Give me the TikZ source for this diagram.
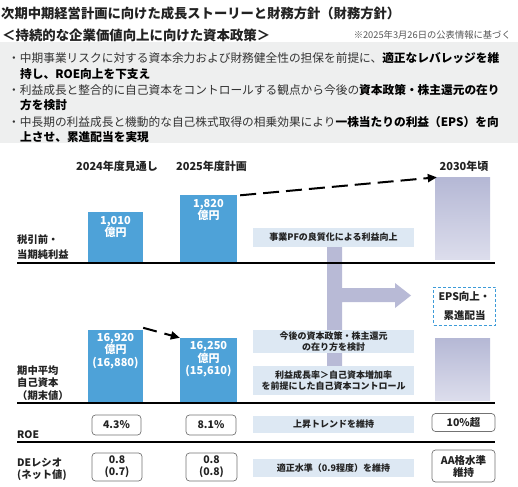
\documentclass[tikz,border=0pt]{standalone}
\usepackage{fontspec}
\setmainfont{Noto Sans CJK JP}
\usetikzlibrary{arrows.meta}
\definecolor{barblue}{HTML}{4EA2D8}
\definecolor{lblue}{HTML}{DDE8F3}
\definecolor{lavtop}{HTML}{B5B8D5}
\definecolor{lavbot}{HTML}{DCDDEC}
\definecolor{lav}{HTML}{B8BAD6}
\definecolor{bggray}{HTML}{EEEFEF}
\definecolor{epsblue}{HTML}{3D9BD8}
\definecolor{txt}{HTML}{222222}
\definecolor{notegray}{HTML}{555555}
\begin{document}
\begin{tikzpicture}[x=1pt,y=-1pt,
  every node/.style={inner sep=0pt, text=txt},
  bar/.style={fill=barblue, minimum width=55pt},
  bartxt/.style={text=white, align=center, font=\fontsize{11}{12.4}\selectfont\bfseries},
  lavbar/.style={top color=lavtop, bottom color=lavbot, minimum width=55pt},
  hdr/.style={font=\fontsize{11}{13}\selectfont\bfseries},
  lab/.style={anchor=west, align=left, font=\fontsize{10.3}{12.2}\selectfont\bfseries},
  lb/.style={fill=lblue, minimum width=161pt, align=center, font=\fontsize{9}{11.5}\selectfont\bfseries},
  rb/.style={draw=black!55, rounded corners=3.5pt, line width=0.7pt, fill=white, align=center, font=\fontsize{10.5}{12}\selectfont\bfseries},
  bul/.style={anchor=west, font=\fontsize{11.7}{14}\selectfont, text=black!80},
  base/.style={line width=1.3pt, black},
  dasharrow/.style={line width=2pt, dash pattern=on 16pt off 7pt, -{Triangle[length=9pt,width=8pt]}},
]
\useasboundingbox (0,0) rectangle (518,486);

% header
\node[anchor=west, font=\fontsize{13.3}{15}\selectfont\bfseries] (title) at (1,13.5) {次期中期経営計画に向けた成長ストーリーと財務方針（財務方針）};
\node[anchor=west, font=\fontsize{13.4}{15}\selectfont\bfseries] (sub) at (2,35) {＜持続的な企業価値向上に向けた資本政策＞};
\node[anchor=east, font=\fontsize{9.3}{10}\selectfont, text=notegray] (note) at (511,35) {※2025年3月26日の公表情報に基づく};

\fill[bggray] (0,42) rectangle (518,143);
\node[bul] (b1a) at (8,58) {・中期事業リスクに対する資本余力および財務健全性の担保を前提に、\textbf{\color{black}適正なレバレッジを維}};
\node[bul] (b1b) at (20,74) {\textbf{\color{black}持し、ROE向上を下支え}};
\node[bul] (b2a) at (8,90) {・利益成長と整合的に自己資本をコントロールする観点から今後の\textbf{\color{black}資本政策・株主還元の在り}};
\node[bul] (b2b) at (20,105.5) {\textbf{\color{black}方を検討}};
\node[bul] (b3a) at (8,122) {・中長期の利益成長と機動的な自己株式取得の相乗効果により\textbf{\color{black}一株当たりの利益（EPS）を向}};
\node[bul] (b3b) at (20,137) {\textbf{\color{black}上させ、累進配当を実現}};

% column headers
\node[hdr] (h1) at (117,166) {2024年度見通し};
\node[hdr] (h2) at (211.5,166) {2025年度計画};
\node[hdr] (h3) at (464,166) {2030年頃};

% lavender L-arrow
\fill[lav] (327,247) -- (342,247) -- (342,288) -- (395,288) -- (395,283) -- (411,295.5)
  -- (395,308) -- (395,302) -- (342,302) -- (342,390) -- (327,390) -- cycle;

% row 1 bars
\node[bar, minimum height=50pt] (p1) at (115.5,237) {};
\node[bar, minimum height=67pt, minimum width=57pt] (p2) at (208.5,228.5) {};
\node[lavbar, minimum height=81pt] (p3) at (462.5,218.5) {};
\node[bartxt] (p1t) at (115.5,227) {1,010\\億円};
\node[bartxt] (p2t) at (208.5,210) {1,820\\億円};
\draw[dasharrow] ([xshift=3pt,yshift=-0.5pt]p2.north east) -- ([xshift=2pt,yshift=0.5pt]p3.north west);

% row 2 bars
\node[bar, minimum height=72pt] (e1) at (115.5,366) {};
\node[bar, minimum height=64pt, minimum width=57pt] (e2) at (208.5,370) {};
\node[lavbar, minimum height=62pt] (e3) at (462.5,369) {};
\node[bartxt] (e1t) at (115.5,351) {16,920\\億円\\(16,880)};
\node[bartxt] (e2t) at (208.5,359.5) {16,250\\億円\\(15,610)};
\draw[line width=2pt, dash pattern=on 14pt off 8pt, -{Triangle[length=9pt,width=8pt]}] ([yshift=2pt]e1.north east) -- ([yshift=0pt]e2.north west);

% light blue boxes
\node[lb, minimum height=19pt] (L1) at (333.5,237.5) {事業PFの良質化による利益向上};
\node[lb, minimum height=23.5pt] (L2) at (333.5,341.5) {今後の資本政策・株主還元\\の在り方を検討};
\node[lb, minimum height=29pt] (L3) at (333.5,380.5) {利益成長率＞自己資本増加率\\を前提にした自己資本コントロール};
\node[lb, minimum height=17pt] (L4) at (333.5,424.5) {上昇トレンドを維持};
\node[lb, minimum height=18pt] (L5) at (333.5,468) {適正水準（0.9程度）を維持};

% EPS dashed box
\node[draw=epsblue, line width=1pt, dash pattern=on 3pt off 2pt, minimum width=62pt, minimum height=38pt, align=center,
  font=\fontsize{10.5}{19}\selectfont\bfseries] (eps) at (464.5,306) {EPS向上・\\累進配当};

% baselines
\coordinate (a1) at (17,263); \coordinate (a2) at (495,263);
\coordinate (c1) at (17,403); \coordinate (c2) at (495,403);
\coordinate (d1) at (17,442); \coordinate (d2) at (495,442);
\draw[base] (a1) -- (a2);
\draw[base] (c1) -- (c2);
\draw[base] (d1) -- (d2);

% left labels
\node[lab, font=\fontsize{10.3}{15}\selectfont\bfseries] (r1) at (17,247.5) {税引前・\\当期純利益};
\node[lab] (r2) at (17,383) {期中平均\\自己資本\\（期末値）};
\node[lab] (r3) at (17,435) {ROE};
\node[lab] (r4) at (17,469) {DEレシオ\\(ネット値)};

% rounded value boxes
\node[rb, minimum width=49pt, minimum height=20pt] (o1) at (116.5,425) {4.3\%};
\node[rb, minimum width=50pt, minimum height=20pt] (o2) at (211,425) {8.1\%};
\node[rb, minimum width=63pt, minimum height=18pt] (o3) at (463.5,422.5) {10\%超};
\node[rb, minimum width=50pt, minimum height=28pt] (q1) at (117,467) {0.8\\(0.7)};
\node[rb, minimum width=51pt, minimum height=28pt] (q2) at (211.5,467) {0.8\\(0.8)};
\node[rb, minimum width=63pt, minimum height=32pt] (q3) at (463.5,466) {AA格水準\\維持};
\end{tikzpicture}
\end{document}
